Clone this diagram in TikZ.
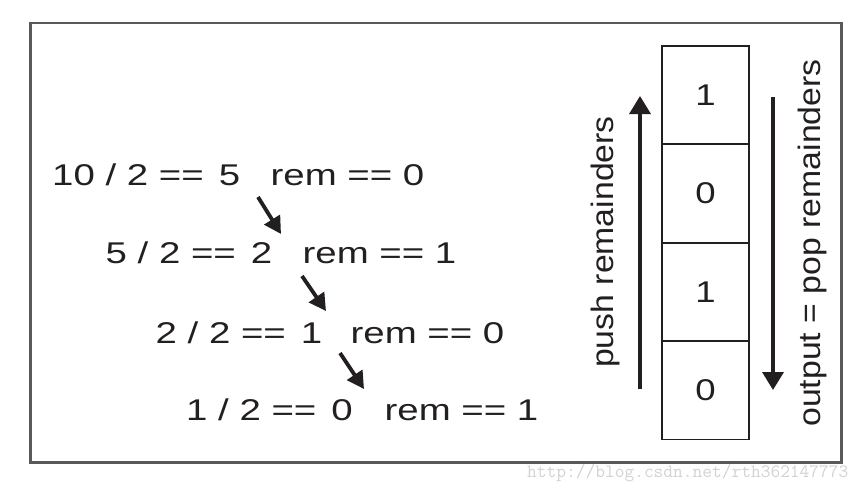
\documentclass[tikz,border=0pt]{standalone}
\usepackage{fontspec}
\setmainfont{Liberation Sans}
\newfontfamily\widefont{Liberation Sans}[FakeStretch=1.28]
\newfontfamily\cellfont{Liberation Sans}[FakeStretch=1.22]
\newfontfamily\vertfont{Liberation Sans}[FakeStretch=1.09]
\usetikzlibrary{arrows.meta}
\definecolor{framegray}{HTML}{5A5858}
\definecolor{wmgray}{HTML}{D2D2D2}
\definecolor{ink}{HTML}{231F20}
\tikzset{
  eqtext/.style={anchor=base west, inner sep=0pt, text=ink, font=\widefont\fontsize{30}{36}\selectfont},
  cell/.style={draw=ink, line width=1.8pt, minimum width=87pt, minimum height=98.3pt, inner sep=0pt, text=ink, font=\cellfont\fontsize{30}{36}\selectfont},
  vtext/.style={anchor=base, rotate=90, inner sep=0pt, text=ink, font=\vertfont\fontsize{31}{36}\selectfont},
  steparrow/.style={draw=ink, line width=3.8pt, -{Triangle[length=17pt,width=18pt]}},
  stackarrow/.style={draw=ink, line width=3.4pt, -{Triangle[length=18pt,width=21pt]}},
}
\begin{document}
\begin{tikzpicture}[x=1pt,y=-1pt]
\useasboundingbox (0,0) rectangle (868,490);
\draw[framegray, line width=2.4pt] (30.5,23) rectangle (841.5,462.5);
% division lines
\node[eqtext] (l1) at (52,185) {10 / 2 ==\hspace{15pt}5};
\node[eqtext] (r1) at (270.5,185) {rem == 0};
\node[eqtext] (l2) at (105.5,263) {5 / 2 ==\hspace{15pt}2};
\node[eqtext] (r2) at (302.5,263) {rem == 1};
\node[eqtext] (l3) at (155.5,343) {2 / 2 ==\hspace{15pt}1};
\node[eqtext] (r3) at (350.5,343) {rem == 0};
\node[eqtext] (l4) at (186,420) {1 / 2 ==\hspace{15pt}0};
\node[eqtext] (r4) at (384.5,420) {rem == 1};
% step arrows
\coordinate (a1s) at (258,197);
\coordinate (a1e) at (281,234);
\coordinate (a2s) at (302,276);
\coordinate (a2e) at (326,311);
\coordinate (a3s) at (340,353);
\coordinate (a3e) at (364,389);
\draw[steparrow] (a1s) -- (a1e);
\draw[steparrow] (a2s) -- (a2e);
\draw[steparrow] (a3s) -- (a3e);
% stack
\node[cell] (c1) at (705.5,95) {1};
\node[cell] (c2) at (705.5,193.5) {0};
\node[cell] (c3) at (705.5,292) {1};
\node[cell] (c4) at (705.5,390.3) {0};
% push / pop
\coordinate (pushs) at (640,389);
\coordinate (pushe) at (640,96);
\coordinate (pops) at (773,97);
\coordinate (pope) at (773,390);
\draw[stackarrow] (pushs) -- (pushe);
\draw[stackarrow] (pops) -- (pope);
\node[vtext] (push) at (613,242) {push remainders};
\node[vtext] (pop) at (820,243) {output = pop remainders};
% watermark
\node[anchor=base west, inner sep=0pt, text=wmgray, font=\ttfamily\fontsize{18.9}{20}\selectfont] (wm) at (527,477) {http://blog.csdn.net/rth362147773};
\end{tikzpicture}
\end{document}
